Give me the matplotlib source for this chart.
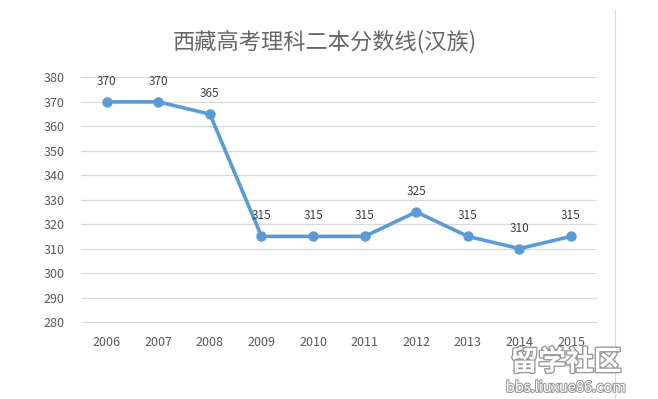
import matplotlib.pyplot as plt
import matplotlib.patheffects as pe
from matplotlib.lines import Line2D

plt.rcParams['font.family'] = ['Noto Sans CJK SC', 'DejaVu Sans']

years = ['2006', '2007', '2008', '2009', '2010', '2011', '2012', '2013', '2014', '2015']
scores = [370, 370, 365, 315, 315, 315, 325, 315, 310, 315]
y_ticks = list(range(280, 381, 10))

grey = '#595959'
blue = '#5B9BD5'

fig = plt.figure(figsize=(6.58, 3.99), dpi=100)
ax = fig.add_axes([0.123, 0.193, 0.784, 0.613])

x = list(range(len(years)))
ax.plot(x, scores, color=blue, lw=2.6, marker='o', ms=6.5, zorder=3)
for xi, v in zip(x, scores):
    ax.annotate(str(v), (xi, v), xytext=(0, 10), textcoords='offset points',
                ha='center', va='bottom', fontsize=8.5, color='#404040')

ax.set_xlim(-0.5, len(years) - 0.5)
ax.set_ylim(280, 380)
ax.set_xticks(x)
ax.set_xticklabels(years)
ax.set_yticks(y_ticks)
ax.grid(axis='y', color='#d9d9d9', lw=0.9)
ax.set_axisbelow(True)
for s in ['top', 'right', 'left']:
    ax.spines[s].set_visible(False)
ax.spines['bottom'].set_color('#d9d9d9')
ax.tick_params(length=0, labelsize=9, colors=grey, pad=10)
ax.tick_params(axis='y', pad=12)

fig.text(0.494, 0.895, '西藏高考理科二本分数线(汉族)', ha='center', va='center',
         fontsize=16, color='#666666')

# right frame line of the original chart
fig.add_artist(Line2D([0.935, 0.935], [0.0, 0.975], color='#d9d9d9', lw=0.8))

# watermark
fig.text(0.86, 0.092, '留学社区', ha='center', va='center', fontsize=20,
         color='white', fontweight='bold',
         path_effects=[pe.withStroke(linewidth=2, foreground='#9a9a9a')])
fig.text(0.86, 0.028, 'bbs.liuxue86.com', ha='center', va='center', fontsize=10.5,
         color='white', path_effects=[pe.withStroke(linewidth=1.5, foreground='#9a9a9a')])

fig.savefig('out.png', dpi=100)
